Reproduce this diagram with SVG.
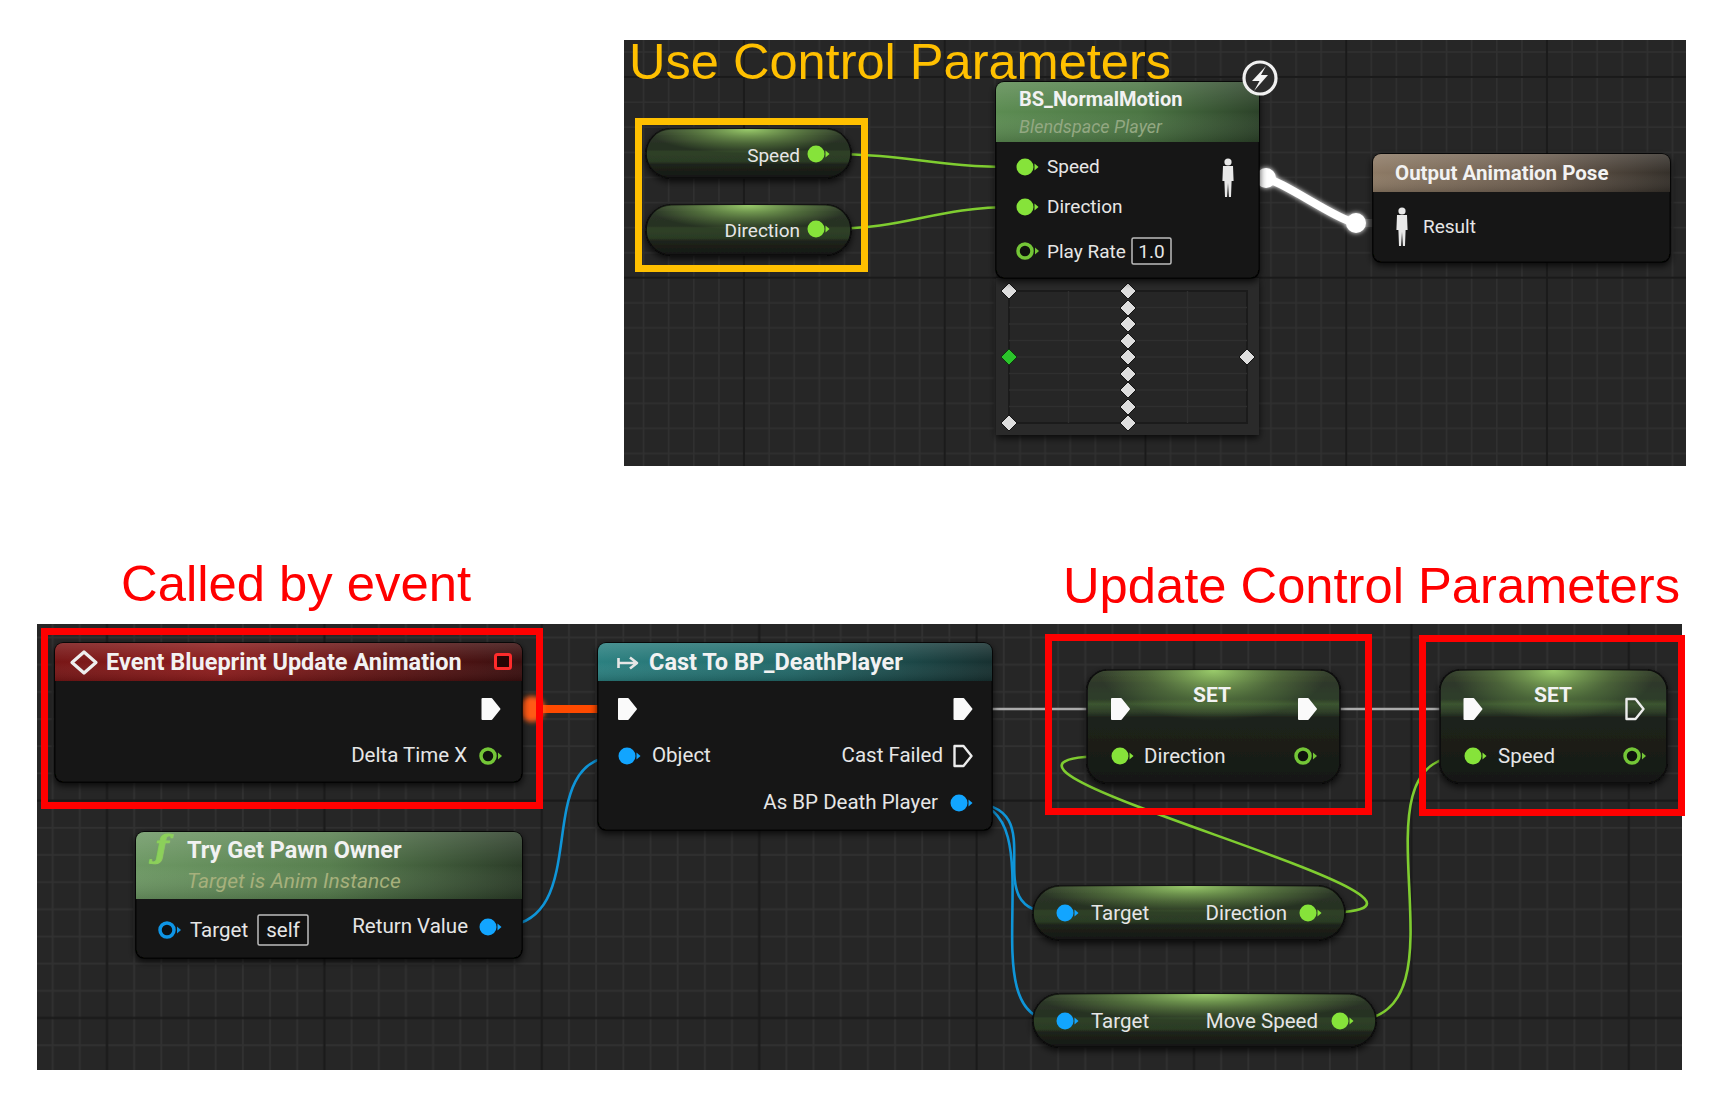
<svg xmlns="http://www.w3.org/2000/svg" xmlns:xlink="http://www.w3.org/1999/xlink" width="1722" height="1110" viewBox="0 0 1722 1110">
<style>
.lbl{font-family:Roboto,"Liberation Sans",sans-serif;fill:#e6e6e6}
.s19{font-size:19px}
.s20{font-size:20.5px}
.ttl{font-family:Roboto,"Liberation Sans",sans-serif;font-weight:bold;fill:#f2f2f2}
.ann{font-family:"Liberation Sans",Arial,sans-serif;font-size:50px}
.wg{fill:none;stroke:#7fcd30;stroke-width:2.6}
.wb{fill:none;stroke:#0f95d8;stroke-width:2.6}
.wx{fill:none;stroke:#ababab;stroke-width:2.6}
.body{fill:#131512;stroke:#050505;stroke-width:1.5}
.pill{stroke:#0b0b0b;stroke-width:1.5}
.box{fill:#111;stroke:#bdbdbd;stroke-width:1.5}
</style>
<defs>
<pattern id="gT" patternUnits="userSpaceOnUse" x="631.08" y="-35.92" width="200.75" height="200.75">
<rect width="200.75" height="200.75" fill="#262626"/>
<path d="M12.55,0V200.75M37.64,0V200.75M62.73,0V200.75M87.83,0V200.75M138.02,0V200.75M163.11,0V200.75M188.2,0V200.75M0,12.55H200.75M0,37.64H200.75M0,62.73H200.75M0,87.83H200.75M0,138.02H200.75M0,163.11H200.75M0,188.2H200.75" stroke="#303030" stroke-width="1.6"/>
<path d="M112.92,0V200.75M0,112.92H200.75" stroke="#1a1a1a" stroke-width="2"/>
</pattern>
<pattern id="gB" patternUnits="userSpaceOnUse" x="-15.29" y="895.71" width="217.4" height="217.4">
<rect width="217.4" height="217.4" fill="#262626"/>
<path d="M13.59,0V217.4M40.76,0V217.4M67.94,0V217.4M95.11,0V217.4M149.46,0V217.4M176.64,0V217.4M203.81,0V217.4M0,13.59H217.4M0,40.76H217.4M0,67.94H217.4M0,95.11H217.4M0,149.46H217.4M0,176.64H217.4M0,203.81H217.4" stroke="#313131" stroke-width="1.8"/>
<path d="M122.29,0V217.4M0,122.29H217.4" stroke="#1a1a1a" stroke-width="2.2"/>
</pattern>
<linearGradient id="hBS" x1="0" y1="0" x2="1" y2="0"><stop offset="0" stop-color="#5c8c52"/><stop offset="0.55" stop-color="#4c7644"/><stop offset="1" stop-color="#2c4229"/></linearGradient>
<linearGradient id="hOut" x1="0" y1="0" x2="1" y2="0"><stop offset="0" stop-color="#8d7a65"/><stop offset="0.55" stop-color="#6c5d4f"/><stop offset="1" stop-color="#35302a"/></linearGradient>
<linearGradient id="hEv" x1="0" y1="0" x2="1" y2="0"><stop offset="0" stop-color="#781616"/><stop offset="0.35" stop-color="#8e1d1d"/><stop offset="1" stop-color="#3a0f0f"/></linearGradient>
<linearGradient id="hFn" x1="0" y1="0" x2="1" y2="0"><stop offset="0" stop-color="#6d9864"/><stop offset="0.5" stop-color="#587f4f"/><stop offset="1" stop-color="#2b3c28"/></linearGradient>
<linearGradient id="hCast" x1="0" y1="0" x2="1" y2="0"><stop offset="0" stop-color="#2b8080"/><stop offset="0.5" stop-color="#226868"/><stop offset="1" stop-color="#173030"/></linearGradient>
<linearGradient id="hHi" x1="0" y1="0" x2="0" y2="1"><stop offset="0" stop-color="#fff" stop-opacity="0.14"/><stop offset="0.5" stop-color="#fff" stop-opacity="0"/><stop offset="1" stop-color="#000" stop-opacity="0.15"/></linearGradient>
<linearGradient id="pillBase" x1="0" y1="0" x2="0" y2="1"><stop offset="0" stop-color="#343f30"/><stop offset="0.15" stop-color="#2b3527"/><stop offset="0.42" stop-color="#263022"/><stop offset="0.46" stop-color="#2f4127"/><stop offset="0.66" stop-color="#2b3b24"/><stop offset="0.72" stop-color="#1e231b"/><stop offset="1" stop-color="#151713"/></linearGradient>
<linearGradient id="setBase" x1="0" y1="0" x2="0" y2="1"><stop offset="0" stop-color="#38442f"/><stop offset="0.12" stop-color="#2e3829"/><stop offset="0.26" stop-color="#2f3e29"/><stop offset="0.3" stop-color="#3c5530"/><stop offset="0.37" stop-color="#2f3f29"/><stop offset="0.42" stop-color="#1e231b"/><stop offset="1" stop-color="#161814"/></linearGradient>
<radialGradient id="pillGlow" cx="0.5" cy="0" r="0.5"><stop offset="0" stop-color="#a6dc72" stop-opacity="0.9"/><stop offset="0.6" stop-color="#7fb055" stop-opacity="0.4"/><stop offset="1" stop-color="#7fb055" stop-opacity="0"/></radialGradient>
<radialGradient id="setGlow" cx="0.5" cy="0" r="0.45"><stop offset="0" stop-color="#a6dc72" stop-opacity="0.9"/><stop offset="0.6" stop-color="#7fb055" stop-opacity="0.35"/><stop offset="1" stop-color="#7fb055" stop-opacity="0"/></radialGradient>
<filter id="sh" x="-10%" y="-15%" width="120%" height="140%"><feDropShadow dx="0" dy="3" stdDeviation="3.5" flood-color="#000" flood-opacity="0.75"/></filter>
<filter id="glow" x="-30%" y="-30%" width="160%" height="160%"><feGaussianBlur stdDeviation="2.5" result="b"/><feMerge><feMergeNode in="b"/><feMergeNode in="SourceGraphic"/></feMerge></filter>
<filter id="blur" x="-50%" y="-50%" width="200%" height="200%"><feGaussianBlur stdDeviation="2.5"/></filter>
<g id="pG"><circle r="8.5" fill="#86e33a"/><path d="M9.5,-3.5L13.5,0L9.5,3.5Z" fill="#86e33a"/></g>
<g id="pGo"><circle r="7" fill="#0f130d" stroke="#74c637" stroke-width="3.5"/><path d="M10,-3.5L14,0L10,3.5Z" fill="#74c637"/></g>
<g id="pB"><circle r="8.5" fill="#12a5ff"/><path d="M9.5,-3.5L13.5,0L9.5,3.5Z" fill="#12a5ff"/></g>
<g id="pBo"><circle r="7" fill="#0c1115" stroke="#0e95e6" stroke-width="3.5"/><path d="M10,-3.5L14,0L10,3.5Z" fill="#0e95e6"/></g>
<path id="ex" d="M-8.5,-10H0.5L8.5,0L0.5,10H-8.5Z" fill="#fafafa" stroke="#fafafa" stroke-width="2" stroke-linejoin="round"/>
<path id="exO" d="M-8.5,-10H0.5L8.5,0L0.5,10H-8.5Z" fill="none" stroke="#ececec" stroke-width="2.4" stroke-linejoin="round"/>
<path id="dia" d="M0,-8L8,0L0,8L-8,0Z" fill="#dedede" stroke="#141414" stroke-width="1"/>
<g id="fig" fill="#e8e8e8"><circle cx="0" cy="-16" r="3.6"/><path d="M-5,-12H5L5.6,3H3.6L3,19H0.9L0,5L-0.9,19H-3L-3.6,3H-5.6Z"/></g>
</defs>

<rect width="1722" height="1110" fill="#ffffff"/>
<g id="panels">
<rect x="624" y="40" width="1062" height="426" fill="url(#gT)"/>
<rect x="37" y="624" width="1645" height="446" fill="url(#gB)"/>
</g>

<g id="connectors">
<path class="wg" d="M826,154 C912,154 930,167 1016,167"/>
<path class="wg" d="M826,229 C912,229 930,207 1016,207"/>
<rect x="1236" y="174" width="26" height="8" fill="#4a4a4a"/>
<rect x="1358" y="219" width="36" height="8" fill="#4a4a4a"/>
<path d="M1264,178 C1280,179 1338,221 1356,223" fill="none" stroke="#ffffff" stroke-width="8" stroke-linecap="round" filter="url(#glow)"/>
<circle cx="1266" cy="178" r="10" fill="#fff" filter="url(#glow)"/>
<circle cx="1356" cy="223" r="10" fill="#fff" filter="url(#glow)"/>
<path d="M501,709 H618" stroke="#4a1608" stroke-width="8" fill="none"/>
<path d="M530,709 H598" stroke="#ff4a00" stroke-width="8" fill="none"/>
<circle cx="532" cy="709" r="13" fill="#ff5a12" filter="url(#blur)"/>
<path class="wx" d="M973,709 H1111"/>
<path class="wx" d="M1317,709 H1463"/>
<path class="wb" d="M497,927 C600,927 525,756 619,756"/>
<path class="wb" d="M968,803 C1060,803 970,913 1056,913"/>
<path class="wb" d="M968,803 C1060,803 965,1021 1056,1021"/>
<path class="wg" d="M1318,913 C1548,913 880,756 1111,756"/>
<path class="wg" d="M1350,1021 C1480,1021 1340,756 1464,756"/>
</g>

<g id="node-var-speed">
<rect class="pill" x="646" y="129" width="205" height="49" rx="24.5" fill="url(#pillBase)" filter="url(#sh)"/>
<rect x="646" y="129" width="205" height="49" rx="24.5" fill="url(#pillGlow)"/>
<text class="lbl s19" x="800" y="162" text-anchor="end">Speed</text>
<use href="#pG" x="816" y="154"/>
</g>
<g id="node-var-direction">
<rect class="pill" x="646" y="205" width="205" height="50" rx="25" fill="url(#pillBase)" filter="url(#sh)"/>
<rect x="646" y="205" width="205" height="50" rx="25" fill="url(#pillGlow)"/>
<text class="lbl s19" x="800" y="237" text-anchor="end">Direction</text>
<use href="#pG" x="816" y="229"/>
</g>

<g id="node-bs-normalmotion">
<rect x="996" y="278" width="263" height="157" fill="#2a2a2a" filter="url(#sh)"/>
<rect x="1009" y="291" width="238" height="132" fill="#262626" stroke="#1b1b1b" stroke-width="2"/>
<path d="M1068.5,291V423M1128,291V423M1187.5,291V423M1009,307.5H1247M1009,324H1247M1009,340.5H1247M1009,357H1247M1009,373.5H1247M1009,390H1247M1009,406.5H1247" stroke="#2f2f2f" stroke-width="1.4"/>
<use href="#dia" x="1009" y="291"/>
<use href="#dia" x="1009" y="423"/>
<use href="#dia" x="1247" y="357"/>
<use href="#dia" x="1128" y="291"/>
<use href="#dia" x="1128" y="308"/>
<use href="#dia" x="1128" y="324"/>
<use href="#dia" x="1128" y="341"/>
<use href="#dia" x="1128" y="357"/>
<use href="#dia" x="1128" y="374"/>
<use href="#dia" x="1128" y="390"/>
<use href="#dia" x="1128" y="407"/>
<use href="#dia" x="1128" y="423"/>
<path d="M1009,349L1017,357L1009,365L1001,357Z" fill="#2bc42b" stroke="#0d3a0d" stroke-width="1"/>
<rect class="body" x="996" y="82" width="263" height="196" rx="8" filter="url(#sh)"/>
<path d="M996,142V90A8,8 0 0 1 1004,82H1251A8,8 0 0 1 1259,90V142Z" fill="url(#hBS)"/>
<path d="M996,142V90A8,8 0 0 1 1004,82H1251A8,8 0 0 1 1259,90V142Z" fill="url(#hHi)"/>
<text class="ttl" x="1019" y="106" font-size="20">BS_NormalMotion</text>
<text x="1019" y="133" font-family="Roboto,'Liberation Sans',sans-serif" font-style="italic" font-size="18" fill="#93a882">Blendspace Player</text>
<use href="#pG" x="1025" y="167"/>
<text class="lbl s19" x="1047" y="173">Speed</text>
<use href="#pG" x="1025" y="207"/>
<text class="lbl s19" x="1047" y="213">Direction</text>
<use href="#pGo" x="1025" y="251"/>
<text class="lbl s19" x="1047" y="258">Play Rate</text>
<rect class="box" x="1132" y="238" width="39" height="26" rx="1.5"/>
<text class="lbl s19" x="1151.5" y="258" text-anchor="middle">1.0</text>
<use href="#fig" x="1228" y="178"/>
<circle cx="1260" cy="78" r="16" fill="#2b2b2b" stroke="#f0f0f0" stroke-width="3.2"/>
<path d="M1266,66L1252,81H1259.5L1254,91L1268,75H1261Z" fill="#f4f4f4"/>
</g>

<g id="node-output-pose">
<rect class="body" x="1373" y="154" width="297" height="108" rx="8" filter="url(#sh)"/>
<path d="M1373,192V162A8,8 0 0 1 1381,154H1662A8,8 0 0 1 1670,162V192Z" fill="url(#hOut)"/>
<path d="M1373,192V162A8,8 0 0 1 1381,154H1662A8,8 0 0 1 1670,162V192Z" fill="url(#hHi)"/>
<text class="ttl" x="1395" y="180" font-size="20.5">Output Animation Pose</text>
<use href="#fig" x="1402" y="227"/>
<text class="lbl s19" x="1423" y="233">Result</text>
</g>

<g id="node-event-update">
<rect class="body" x="55" y="643" width="467" height="139" rx="8" filter="url(#sh)"/>
<path d="M55,681V651A8,8 0 0 1 63,643H514A8,8 0 0 1 522,651V681Z" fill="url(#hEv)"/>
<path d="M55,681V651A8,8 0 0 1 63,643H514A8,8 0 0 1 522,651V681Z" fill="url(#hHi)"/>
<path d="M84,652L96,662.5L84,673L72,662.5Z" fill="none" stroke="#eeeeee" stroke-width="3.2" stroke-linejoin="round"/>
<text class="ttl" x="106" y="670" font-size="23.5">Event Blueprint Update Animation</text>
<rect x="495.5" y="654.5" width="15" height="14" rx="2" fill="#2a0404" stroke="#ff2b2b" stroke-width="3"/>
<use href="#ex" x="491" y="709"/>
<text class="lbl s20" x="467" y="762" text-anchor="end">Delta Time X</text>
<use href="#pGo" x="488" y="756"/>
</g>

<g id="node-try-get-pawn-owner">
<rect class="body" x="136" y="832" width="386" height="126" rx="8" filter="url(#sh)"/>
<path d="M136,899V840A8,8 0 0 1 144,832H514A8,8 0 0 1 522,840V899Z" fill="url(#hFn)"/>
<path d="M136,899V840A8,8 0 0 1 144,832H514A8,8 0 0 1 522,840V899Z" fill="url(#hHi)"/>
<text x="155" y="858" font-family="'DejaVu Serif','Liberation Serif',serif" font-style="italic" font-weight="bold" font-size="32" fill="#8cd05a" stroke="#8cd05a" stroke-width="0.8">ƒ</text>
<text class="ttl" x="187" y="858" font-size="23.5">Try Get Pawn Owner</text>
<text x="187" y="888" font-family="Roboto,'Liberation Sans',sans-serif" font-style="italic" font-size="21" fill="#a6b07c">Target is Anim Instance</text>
<use href="#pBo" x="167" y="930"/>
<text class="lbl s20" x="190" y="937">Target</text>
<rect class="box" x="258" y="915" width="50" height="30" rx="1.5"/>
<text class="lbl s20" x="283" y="937" text-anchor="middle">self</text>
<text class="lbl s20" x="468" y="933" text-anchor="end">Return Value</text>
<use href="#pB" x="488" y="927"/>
</g>

<g id="node-cast-deathplayer">
<rect class="body" x="598" y="643" width="394" height="187" rx="8" filter="url(#sh)"/>
<path d="M598,681V651A8,8 0 0 1 606,643H984A8,8 0 0 1 992,651V681Z" fill="url(#hCast)"/>
<path d="M598,681V651A8,8 0 0 1 606,643H984A8,8 0 0 1 992,651V681Z" fill="url(#hHi)"/>
<path d="M618.5,658V668M618.5,663H635M630,657.5L637,663L630,668.5" fill="none" stroke="#e6e6e6" stroke-width="2.6" stroke-linejoin="round"/>
<text class="ttl" x="649" y="670" font-size="23.5">Cast To BP_DeathPlayer</text>
<use href="#ex" x="627.5" y="709"/>
<use href="#ex" x="963" y="709"/>
<use href="#pB" x="627" y="756"/>
<text class="lbl s20" x="652" y="762">Object</text>
<text class="lbl s20" x="943" y="762" text-anchor="end">Cast Failed</text>
<use href="#exO" x="963" y="756"/>
<text class="lbl s20" x="938" y="809" text-anchor="end">As BP Death Player</text>
<use href="#pB" x="959" y="803"/>
</g>

<g id="node-set-direction">
<rect class="pill" x="1087" y="670" width="253" height="113" rx="20" fill="url(#setBase)" filter="url(#sh)"/>
<rect x="1087" y="670" width="253" height="113" rx="20" fill="url(#setGlow)"/>
<text class="ttl" x="1212" y="702" font-size="21" text-anchor="middle">SET</text>
<use href="#ex" x="1120.5" y="709"/>
<use href="#ex" x="1307.5" y="709"/>
<use href="#pG" x="1120" y="756"/>
<text class="lbl s20" x="1144" y="763">Direction</text>
<use href="#pGo" x="1303" y="756"/>
</g>

<g id="node-set-speed">
<rect class="pill" x="1440" y="670" width="227" height="113" rx="20" fill="url(#setBase)" filter="url(#sh)"/>
<rect x="1440" y="670" width="227" height="113" rx="20" fill="url(#setGlow)"/>
<text class="ttl" x="1553" y="702" font-size="21" text-anchor="middle">SET</text>
<use href="#ex" x="1473" y="709"/>
<use href="#exO" x="1635" y="709"/>
<use href="#pG" x="1473" y="756"/>
<text class="lbl s20" x="1498" y="763">Speed</text>
<use href="#pGo" x="1632" y="756"/>
</g>

<g id="node-get-direction">
<rect class="pill" x="1033" y="886" width="312" height="54" rx="27" fill="url(#pillBase)" filter="url(#sh)"/>
<rect x="1033" y="886" width="312" height="54" rx="27" fill="url(#pillGlow)"/>
<use href="#pB" x="1065" y="913"/>
<text class="lbl s20" x="1091" y="920">Target</text>
<text class="lbl s20" x="1287" y="920" text-anchor="end">Direction</text>
<use href="#pG" x="1308" y="913"/>
</g>

<g id="node-get-movespeed">
<rect class="pill" x="1033" y="994" width="343" height="53" rx="26.5" fill="url(#pillBase)" filter="url(#sh)"/>
<rect x="1033" y="994" width="343" height="53" rx="26.5" fill="url(#pillGlow)"/>
<use href="#pB" x="1065" y="1021"/>
<text class="lbl s20" x="1091" y="1028">Target</text>
<text class="lbl s20" x="1318" y="1028" text-anchor="end">Move Speed</text>
<use href="#pG" x="1340" y="1021"/>
</g>

<g id="annotations">
<rect x="638.5" y="121.5" width="226" height="147" fill="none" stroke="#ffc000" stroke-width="7"/>
<text class="ann" x="629" y="79" fill="#ffc000" textLength="542" lengthAdjust="spacingAndGlyphs">Use Control Parameters</text>
<rect x="44.5" y="631.5" width="495" height="174" fill="none" stroke="#ff0000" stroke-width="7"/>
<rect x="1048.5" y="637.5" width="320" height="174" fill="none" stroke="#ff0000" stroke-width="7"/>
<rect x="1422.5" y="638.5" width="259" height="174" fill="none" stroke="#ff0000" stroke-width="7"/>
<text class="ann" x="121" y="601" fill="#ff0000" textLength="350" lengthAdjust="spacingAndGlyphs">Called by event</text>
<text class="ann" x="1063" y="603" fill="#ff0000" textLength="617" lengthAdjust="spacingAndGlyphs">Update Control Parameters</text>
</g>
</svg>
